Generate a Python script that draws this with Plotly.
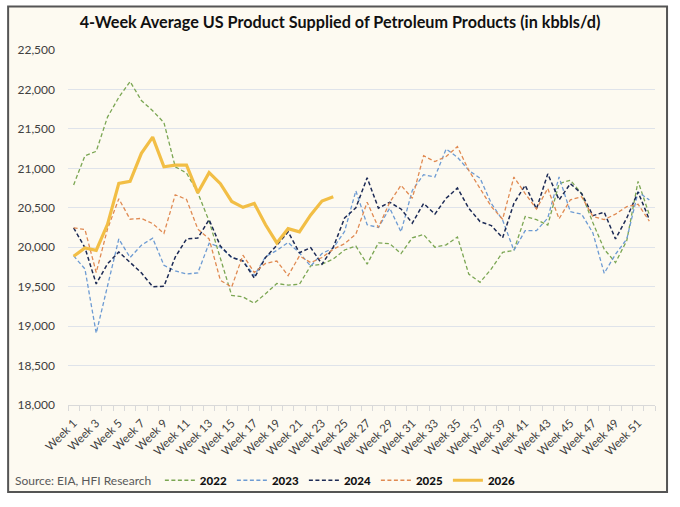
import plotly.graph_objects as go

# Week labels on the x axis
weeks = [f"Week {i}" for i in range(1, 53)]
tick_text = [w if i % 2 == 0 else "" for i, w in enumerate(weeks)]

# 4-week average product supplied, kbbls/d
y2022 = [20790, 21160, 21215, 21650, 21900, 22100, 21860, 21730, 21580, 21020,
         20940, 20690, 20330, 19870, 19390, 19370, 19290, 19410, 19540, 19520,
         19530, 19765, 19785, 19850, 19965, 20015, 19785, 20055, 20045, 19920,
         20120, 20160, 20000, 20030, 20130, 19660, 19555, 19725, 19935, 19960,
         20390, 20350, 20280, 20805, 20850, 20680, 20310, 19975, 19805, 20085,
         20835, 20410]
y2023 = [19890, 19725, 18910, 19515, 20105, 19870, 20025, 20115, 19770, 19700,
         19660, 19675, 20050, 20000, 19870, 19830, 19640, 19880, 19960, 20060,
         19930, 19760, 19920, 19990, 20200, 20715, 20285, 20250, 20495, 20195,
         20720, 20920, 20890, 21245, 21140, 20975, 20875, 20555, 20345, 19960,
         20210, 20210, 20370, 20890, 20450, 20420, 20180, 19670, 19910, 20105,
         20700, 20600]
y2024 = [20245, 19995, 19535, 19790, 19940, 19805, 19675, 19500, 19505, 19875,
         20105, 20115, 20350, 20015, 19870, 19825, 19610, 19870, 20025, 20195,
         19930, 19995, 19785, 20000, 20370, 20500, 20880, 20495, 20570, 20485,
         20305, 20555, 20420, 20620, 20750, 20495, 20325, 20275, 20120, 20555,
         20785, 20485, 20930, 20600, 20805, 20680, 20400, 20445, 20105, 20370,
         20700, 20350]
y2025 = [20245, 20225, 19680, 20230, 20615, 20355, 20365, 20300, 20175, 20665,
         20605, 20230, 20105, 19580, 19495, 19900, 19680, 19795, 19825, 19640,
         19890, 19805, 19870, 19975, 20045, 20165, 20570, 20250, 20570, 20785,
         20620, 21160, 21085, 21150, 21275, 20975, 20745, 20515, 20355, 20890,
         20680, 20485, 20745, 20360, 20600, 20640, 20390, 20350, 20420, 20515,
         20545, 20330]
y2026 = [19885, 19990, 19960, 20290, 20810, 20835, 21190, 21395, 21020, 21040,
         21040, 20690, 20945, 20805, 20580, 20505, 20555, 20285, 20055, 20235,
         20195, 20410, 20585, 20640]

series = [
    ("2022", y2022, "#7BA653", 1.3, "4px,2.5px"),
    ("2023", y2023, "#6D9BD3", 1.3, "4px,2.5px"),
    ("2024", y2024, "#1C2A55", 1.5, "4px,2.5px"),
    ("2025", y2025, "#E08A52", 1.3, "4px,2.5px"),
    ("2026", y2026, "#F2BE45", 3.2, "solid"),
]

fig = go.Figure()
for name, vals, color, width, dash in series:
    fig.add_trace(go.Scatter(
        x=weeks[:len(vals)], y=vals, mode="lines", name=name,
        line=dict(color=color, width=width, dash=dash),
    ))

cream = "#FDFAF1"

# chart frame with a cream fill
fig.add_shape(type="rect", xref="paper", yref="paper",
              x0=-0.102, x1=1.0205, y0=-0.245, y1=1.1226,
              fillcolor=cream, line=dict(color="#555555", width=2), layer="below")

fig.add_annotation(text="Source: EIA, HFI Research", xref="paper", yref="paper",
                   x=-0.093, y=-0.212, xanchor="left", yanchor="middle", showarrow=False,
                   font=dict(size=12, color="#595959", family="Lato"))

fig.update_layout(
    width=680, height=507,
    margin=dict(l=68, r=25, t=50, b=98),
    paper_bgcolor="white",
    plot_bgcolor=cream,
    font=dict(family="Lato", color="#404040"),
    title=dict(text="<b>4-Week Average US Product Supplied of Petroleum Products (in kbbls/d)</b>",
               x=0.5, xanchor="center", y=0.955, yanchor="middle", automargin=False,
               font=dict(size=16.2, color="#111111", family="Lato")),
    legend=dict(orientation="h", x=0.464, xanchor="center", y=-0.212, yanchor="middle",
                font=dict(size=11.5, color="#111111", family="Lato Black, Lato"),
                bgcolor="rgba(0,0,0,0)", itemwidth=30, tracegroupgap=0),
    showlegend=True,
)

fig.update_xaxes(
    type="category", categoryorder="array", categoryarray=weeks,
    tickmode="array", tickvals=weeks, ticktext=tick_text,
    tickson="boundaries", ticks="outside", ticklen=5, tickcolor="#D9D9D9",
    tickangle=-45, tickfont=dict(size=11.5, color="#404040"), ticklabelstandoff=6,
    showgrid=False, showline=True, linecolor="#D9D9D9", linewidth=1,
    range=[-0.5, 51.5], automargin=False,
)
fig.update_yaxes(
    range=[18000, 22500], dtick=500, tickformat=",",
    showgrid=True, gridcolor="#DFE3EA", gridwidth=1,
    zeroline=False, showline=False, automargin=False,
    tickfont=dict(size=12, color="#404040"), ticks="", ticklabelstandoff=12,
)

# drop the page's default body margin so the figure sits at the window corner
fig.write_html("out.html", config={"displayModeBar": False},
               post_script="document.body.style.margin='0';")
